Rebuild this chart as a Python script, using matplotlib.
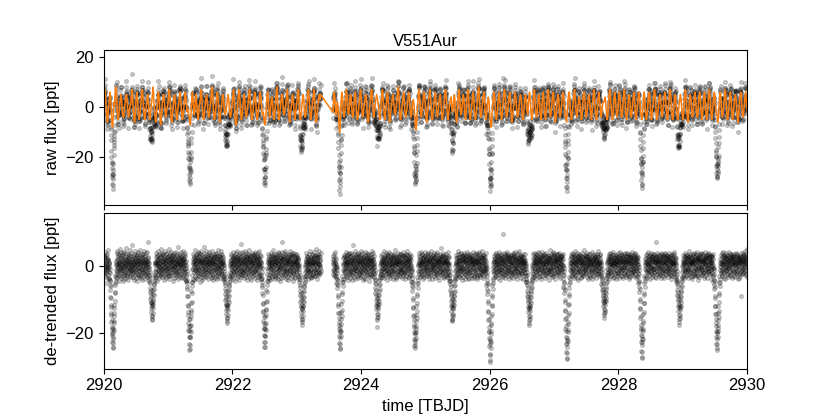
import numpy as np
import matplotlib
matplotlib.use("Agg")
import matplotlib.pyplot as plt
from matplotlib.ticker import MultipleLocator

plt.rcParams['font.family'] = ['Liberation Sans', 'DejaVu Sans']

# V551Aur light curve, 200 s cadence, two segments (data gap near 2923.45)
cadence = 200.0 / 86400.0
start1 = 2920.0
start2 = 2923.56

# de-trended flux, segment 1, in units of 0.1 ppt (12 exposures per row)
detr1 = [
    12, -23, 31, 4, -17, 26, -8, 42, -31, 9, -2, 28,
    -14, 6, -21, 15, -52, 33, 1, -9, 19, -36, 24, -4,
    37, -11, 3, -27, 18, 48, -6, 22, -40, 11, -19, 7,
    8, -35, -2, -41, -9, -58, -22, -71, -44, -93, -61, -118,
    -96, -141, -122, -168, -147, -189, -163, -207, -184, -228, -201, -246,
    -219, -242, -198, -231, -186, -212, -164, -193, -141, -172, -118, -149,
    -127, -82, -104, -51, -79, -31, -58, -12, -45, 3, -36, 9,
    -25, 14, 39, -7, 2, -33, 21, 45, -16, 6, -28, 17,
    32, -4, -19, 27, 10, -45, 13, 0, -12, 36, -29, 5,
    -9, 23, 50, -22, 8, 16, -37, 29, -3, -15, 41, -6,
    18, -31, 4, 34, -11, 24, -2, -46, 15, 8, -20, 38,
    -7, 12, -26, 43, 1, -14, 30, -38, 21, -1, 9, -23,
    26, -17, 6, 19, -35, 40, -10, 3, 55, -27, 14, -5,
    -30, 7, 22, -13, 36, -2, -21, 11, 28, -42, 17, 2,
    10, 33, -15, -6, 24, -29, 47, 5, -19, 13, -8, 30,
    -3, -24, 16, 39, -12, 8, -34, 20, 1, 62, -16, 4,
    21, -9, -32, 12, 27, -4, 15, -22, 35, -13, 6, -41,
    3, 29, -18, 44, -7, 16, -27, 9, -1, 25, -36, 11,
    -12, 18, 34, -20, 5, -44, 23, 2, -10, 31, 14, -28,
    41, -6, 10, -25, 17, 37, -14, -3, 26, -33, 7, 19,
    -16, 24, -2, 48, -30, 11, 6, -19, 32, -8, -37, 13,
    15, -27, 28, 3, -11, 21, -42, 36, 9, -5, 18, -22,
    -1, 35, -17, 14, 26, -31, 4, -9, 45, 12, -24, 7,
    30, -13, 22, -38, 8, 2, 19, -26, 13, 40, -7, -15,
    6, -20, 43, -4, 16, -34, 25, 10, -18, 28, -2, 71,
    14, -27, 8, -31, -2, -41, -9, -47, -18, -66, -35, -79,
    -52, -98, -71, -112, -84, -127, -93, -139, -108, -151, -117, -158,
    -163, -121, -149, -112, -141, -98, -126, -85, -113, -72, -104, -58,
    -86, -44, -69, -28, -55, -14, -41, 2, -33, 9, -27, 12,
    -19, 26, 5, -33, 38, 12, -8, 21, -45, 16, 3, 29,
    9, -14, 32, -1, -26, 17, 46, -11, 24, -37, 7, -3,
    -22, 13, 1, 35, -17, 28, -6, -30, 19, 8, 52, -13,
    27, -5, -23, 11, 40, -34, 15, 2, -9, 33, -20, 6,
    -11, 37, 20, -28, 4, 14, -41, 25, 10, -16, 31, -2,
    18, -30, 9, 44, -12, 22, -3, -25, 36, 1, -8, 15,
    -35, 11, 27, -7, 19, -21, 39, 6, -14, 28, -29, 3,
    24, -2, -17, 31, 8, 50, -26, 13, -5, -38, 21, 10,
    -8, 20, 35, -15, -31, 7, 16, -4, 43, -22, 12, 26,
    1, -27, 14, 22, -10, 34, -19, 29, 4, -46, 17, -6,
    33, 9, -13, -36, 25, -1, 11, 38, -24, 15, 0, -18,
    -4, 28, -32, 16, 6, -15, 42, -9, 21, -28, 35, 2,
    13, -21, 30, 5, -39, 19, -7, 24, 10, 57, -16, -3,
    -26, 15, 8, -11, 29, 37, -20, 3, -34, 18, 6, 23,
    7, -6, 41, -24, 12, -2, 26, -37, 17, 31, -12, 4,
    20, -33, -1, 14, 46, -17, 9, 22, -28, 5, 34, -10,
    -14, 25, 18, -40, 3, 30, -9, 12, -21, 39, -45, 16,
    4, -31, -6, -44, -14, -52, -25, -68, -41, -89, -64, -121,
    -91, -146, -118, -171, -139, -193, -158, -214, -179, -233, -196, -251,
    -212, -248, -193, -236, -181, -214, -159, -197, -138, -176, -112, -151,
    -132, -76, -108, -47, -82, -26, -61, -9, -48, 5, -39, 11,
    22, -8, 36, -19, 7, 15, -42, 31, -3, 24, -14, 9,
    -29, 17, 3, 48, -12, 26, -35, 10, 19, -6, 33, -21,
    11, -38, 25, -4, 37, -16, 2, 21, -27, 14, -9, 43,
    -2, 30, -22, 9, -13, 40, 18, -31, 6, 27, -47, 13,
    35, -12, 14, -25, 22, 1, -34, 16, 45, -10, 8, -19,
    -7, 19, -41, 32, -1, 12, 28, -23, 3, -36, 24, 58,
    16, -24, 7, 38, -15, -30, 20, 11, -8, 29, -4, -13,
    -33, 4, 21, -9, 46, 13, -18, 34, -27, 2, 17, 8,
    26, -14, -3, 15, -22, 31, 6, -39, 23, 12, -1, 36,
    -11, 41, 9, -28, 18, -5, 25, 14, -16, 33, -37, 0,
    8, -19, 30, 3, -32, 22, -12, 44, 10, -23, 15, -6,
    19, 28, -26, 12, 5, -43, 35, -2, 24, -11, 7, 31,
    -21, 6, 13, -35, 27, 16, -8, 20, -30, 39, 2, -15,
    37, -10, 23, 1, -18, 29, -40, 11, 6, -25, 48, -4,
    -5, 21, -29, 34, 14, -7, 18, -20, 31, 3, -13, 26,
    12, -37, 5, 20, -9, 45, -24, 8, -3, 36, -17, 10,
    -23, 16, 32, -12, 24, -1, -31, 27, 13, -40, 19, 4,
    9, -30, 3, -36, -7, -45, -15, -51, -24, -70, -40, -84,
    -58, -103, -76, -118, -89, -133, -99, -145, -113, -157, -121, -164,
    -171, -125, -155, -117, -146, -101, -131, -88, -118, -76, -107, -61,
    -90, -47, -72, -31, -58, -17, -44, -1, -36, 6, -30, 14,
    17, -6, 29, -21, 10, 36, -13, 4, -33, 22, 8, -27,
    -4, 31, 14, -38, 23, 2, -16, 41, -9, 18, -25, 11,
    28, -19, 6, 15, -44, 26, 9, -7, 33, -14, 1, 20,
    -12, 39, -27, 3, 17, -3, 45, -20, 12, 27, -35, 7,
    24, -9, 18, -30, 5, 34, -17, 22, -2, -41, 13, 30,
    -16, 10, -5, 26, -24, 14, 38, -11, 19, 0, -28, 66,
    3, -33, 21, 9, 42, -15, 7, -26, 31, 16, -8, -19,
    35, 12, -22, 17, -6, 28, -37, 5, 24, -12, 44, 1,
    -27, 19, 8, -14, 30, -3, 15, 39, -21, 6, -32, 23,
    10, -41, 27, 4, -10, 21, -25, 13, 37, -18, 2, 32,
    -8, 25, -2, 47, -29, 11, 18, -6, -35, 29, 14, -12,
    22, -16, 34, -23, 8, -1, 26, -43, 16, 40, -9, 5,
    -18, 7, 13, 33, -31, 20, -4, 24, 9, -22, 35, -14,
    29, -26, 0, 18, 12, -37, 43, -8, -15, 26, 4, 17,
    -6, 36, -20, 10, 25, -12, 3, 31, -42, 14, 21, -1,
    15, -11, 28, -32, 1, 38, -18, 9, 20, -27, 7, 46,
    -30, 23, 6, -7, 34, 13, -24, 17, -3, 30, -39, 8,
    11, -27, 1, -38, -5, -49, -19, -62, -37, -81, -57, -112,
    -87, -139, -113, -165, -134, -186, -151, -208, -172, -227, -189, -243,
    -209, -241, -188, -229, -176, -209, -154, -191, -133, -170, -108, -146,
    -128, -73, -104, -44, -79, -23, -57, -6, -45, 8, -35, 13,
    20, -13, 37, -4, -26, 14, 29, -35, 6, 22, -10, 3,
    -24, 8, 18, -43, 31, 10, -7, 25, -18, 40, 1, -29,
    13, 33, -9, 21, -37, 4, 16, -2, 49, -22, 11, 27,
    -15, -31, 24, 7, 19, -11, 35, -26, 3, 14, -40, 9,
    30, 2, -19, 36, -8, 23, -33, 12, 26, -5, 17, -24,
    -1, 26, 11, -29, 42, -14, 5, 21, -38, 8, 32, -10,
    18, -22, 39, 6, -12, 28, -3, -45, 15, 33, -7, 1,
    -36, 14, -6, 24, 9, -20, 41, 17, -28, 2, 20, 71,
    7, -17, 30, -33, 22, 12, -9, 27, 4, -24, 38, -13,
    25, -5, -27, 16, -1, 44, -16, 8, 31, -39, 10, 19,
    -12, 37, 3, -21, 28, -8, 15, -32, 20, 6, -15, 34,
    14, -28, 22, 9, -41, 17, 35, -4, -11, 26, 2, -20,
    -9, 19, 46, -16, 7, -25, 12, 30, -36, 13, 24, -2,
    32, -14, 1, 27, -30, 5, -7, 38, 11, -19, -44, 16,
    -20, 10, 34, -3, 18, 29, -23, 4, -12, 40, 8, -33,
    5, -37, 15, 23, -6, -17, 36, 13, 26, -10, 17, 2,
    27, 11, -24, 8, 33, -12, 20, -29, 3, 18, -3, 25,
    6, -33, 1, -39, -10, -48, -19, -56, -28, -74, -43, -88,
    -63, -107, -81, -122, -92, -138, -101, -150, -117, -161, -125, -169,
    -176, -128, -158, -120, -149, -104, -134, -92, -120, -79, -109, -64,
    -93, -50, -75, -34, -61, -19, -47, -3, -39, 4, -31, 12,
    -14, 22, 5, -31, 16, 39, -8, 13, -23, 28, 0, -11,
    31, -19, 12, 26, -40, 7, 21, -6, 35, -15, 9, -27,
    -3, 15, -34, 19, 4, -22, 44, 10, -13, 24, -37, 6,
    20, -9, 28, -16, 37, 2, -26, 17, 8, -32, 23, 13,
    -25, 34, -1, 11, -18, 27, -11, 41, -5, 16, -29, 9,
    12, -30, 23, 5, 29, -13, 3, -21, 33, 18, -8, 50,
    -17, 8, -38, 30, 14, -4, 24, -28, 10, 2, 36, -19,
    26, -12, 15, -27, 4, 31, -20, 7, 45, -9, 18, -2,
    14, -21, 28, 3, -15, 39,
]

# de-trended flux, segment 2, in units of 0.1 ppt
detr2 = [
    11, -24, 6, 30, -12, 22, -31, 4, 17, -8, 35, -15,
    -3, 26, -19, 9, 41, -27, 13, 1, -36, 20, -6, -52,
    5, -29, -4, -40, -12, -55, -20, -66, -43, -87, -58, -115,
    -93, -142, -119, -169, -141, -190, -156, -211, -176, -231, -198, -247,
    -215, -244, -195, -233, -183, -211, -160, -194, -139, -173, -115, -150,
    -131, -78, -106, -49, -84, -29, -59, -11, -47, 2, -38, 10,
    23, -10, 34, -18, 6, 27, -40, 15, -2, 31, -22, 8,
    -14, 19, 3, -30, 42, 11, -7, 25, -26, 13, 37, -5,
    29, -33, 16, 7, -11, 23, -1, -43, 20, 9, -17, 35,
    -8, 14, -24, 38, 2, -15, 30, 12, -35, 26, 5, -20,
    17, 40, -12, 4, -28, 19, -5, 33, 10, -41, 22, -3,
    -27, 8, 24, -9, 15, 63, -19, 6, 28, -13, -32, 18,
    3, -21, 36, 13, -6, -38, 21, -2, 45, -16, 9, 26,
    -11, 31, -4, -25, 19, 7, 35, -29, 12, 1, -14, 39,
    24, -7, 16, 29, -36, 10, -20, 17, -3, 32, 14, -26,
    -19, 12, -33, 5, 27, -11, 3, 44, -23, 18, 25, -8,
    34, -15, 9, -2, -30, 38, 13, -18, 7, -42, 20, 4,
    -6, 22, 28, -21, 11, 1, -35, 26, 16, -9, 41, -12,
    15, -38, -3, 33, 20, -14, 8, -26, 30, 5, -19, 23,
    -24, 6, 39, -10, -1, 25, -31, 14, -6, 36, 2, 17,
    9, 27, -16, 21, -44, 13, 32, -4, 19, -23, 10, -34,
    -2, -18, 24, 11, 35, -27, 4, 18, -12, 46, -7, 14,
    28, 3, -30, 17, -8, 22, -15, 39, 6, -20, 31, -1,
    12, -25, 5, -34, -4, -43, -13, -51, -21, -67, -38, -81,
    -55, -101, -73, -116, -86, -130, -96, -143, -110, -155, -119, -162,
    -184, -122, -152, -114, -143, -99, -129, -86, -115, -74, -104, -57,
    -88, -41, -70, -26, -54, -12, -40, 4, -32, 10, -25, 15,
    -16, 30, 8, -23, 37, -5, 14, -33, 21, 2, -11, 26,
    19, -9, -28, 13, 4, 44, -19, 25, -6, 11, -37, 7,
    -31, 24, 17, -3, 29, -14, 0, -24, 38, 15, 6, -12,
    10, -41, 20, 33, -13, 8, 27, -7, -18, 31, -25, 3,
    36, 2, -15, 21, -30, 16, -4, 12, 43, -21, 9, -28,
    -7, 18, 31, -35, 7, 25, -11, 37, -2, -16, 22, 13,
    25, -20, 4, 10, -26, -1, 34, -14, 17, 29, -40, 6,
    -13, 35, -23, 27, 15, -8, 20, 3, -32, 12, 1, 48,
    4, -12, 24, -39, 30, 11, -21, 16, 8, -4, 27, -18,
    21, 9, -34, 5, -15, 40, 6, -25, 23, 14, -10, 32,
    -26, 16, 13, -6, 28, -19, 37, 2, -13, -30, 19, 8,
    14, -3, -22, 36, -9, 21, -36, 11, 29, 4, -16, 24,
    -10, 29, 7, -17, 42, 1, 15, -29, 5, 33, -8, -21,
    30, -24, 19, 12, -4, -14, 26, 9, -38, 17, 36, 0,
    -18, 11, -29, 23, 16, 32, -7, -12, 20, -1, 45, -33,
    7, 34, 2, -20, -11, 18, 28, -37, 13, 22, -5, 15,
    -23, -8, 35, 9, 25, -26, 3, 19, -14, 30, -2, -48,
    2, -36, -8, -47, -16, -60, -27, -74, -48, -96, -63, -124,
    -101, -150, -125, -176, -146, -199, -162, -218, -184, -239, -205, -245,
    -221, -238, -200, -227, -190, -216, -166, -199, -146, -179, -121, -155,
    -136, -84, -111, -53, -89, -33, -65, -15, -51, -1, -42, 7,
    19, -17, 30, 6, -25, 13, 38, -9, 2, 27, -34, 10,
    -5, 22, -14, 41, 9, -31, 17, 4, -20, 35, 12, -7,
    33, -28, 11, -2, 24, 15, -39, 20, 7, -12, 29, -23,
    -15, 6, 26, -33, 14, 31, -6, 43, -18, 9, -1, 18,
    24, -11, -4, 17, -29, 5, 22, -16, 36, -7, -27, 12,
    1, 39, -21, 10, 28, -13, 8, 33, -40, 16, 21, -3,
    -30, 15, 5, -17, 35, 23, -10, -24, 13, 1, 46, -8,
    12, -26, 27, 20, -3, -38, 19, 6, 31, -15, 4, 25,
    -9, 32, -13, 3, 16, 11, -31, 24, -6, 40, -20, 7,
    26, -4, 18, -37, 7, 29, -15, 1, 22, -23, 13, 35,
    -21, 9, 42, -8, -17, 14, 34, -28, 10, 4, -11, 19,
    16, -33, 1, 25, 12, -6, 23, 15, -42, 30, 7, -14,
    -2, 21, -19, 36, -27, 18, 3, -9, 27, 55, -24, 11,
    31, 5, -10, -22, 20, 8, -34, 29, 14, -17, 38, -5,
    -12, 27, 13, 4, -36, 33, 11, -13, 2, 24, -29, 17,
    8, -18, 37, -25, 15, -2, 26, 19, -9, -33, 16, 6,
    -28, 13, -6, 30, 23, -15, 5, 41, -21, 9, 28, -44,
    10, -28, 4, -37, -6, -46, -16, -53, -26, -71, -42, -85,
    -60, -104, -79, -119, -90, -134, -98, -147, -115, -158, -123, -166,
    -162, -125, -150, -117, -144, -102, -129, -89, -118, -77, -106, -60,
    -91, -45, -74, -29, -57, -15, -43, 1, -35, 8, -28, 13,
    23, -13, 6, 32, -20, 14, -37, 25, 3, -8, 36, -16,
    -4, 28, -24, 10, 45, -11, 19, -30, 7, 21, -2, 13,
    37, -19, 15, -6, -33, 26, 1, 17, -14, 39, -26, 5,
    -11, 8, 29, 22, -3, -41, 31, -7, 24, -18, 12, 34,
    18, -32, -9, 14, 27, 4, -22, 40, -5, 13, -38, 20,
    -25, 16, 33, -14, 9, 29, -10, -3, 19, -27, 26, 2,
    6, 42, -16, 21, -30, 0, 35, -20, 11, 30, -12, -35,
    28, -6, 12, -39, 18, 25, -18, 8, -2, 37, 14, -22,
    -14, 20, 2, 27, -10, -28, 16, 33, -36, 5, 22, 10,
    31, -27, 24, 6, 13, -9, 43, -15, 20, -4, -31, 17,
    -7, 11, -35, 18, 35, 7, -13, 26, 2, -21, 9, 39,
    14, -23, 22, -1, -19, 32, -40, 12, 28, 15, -8, -26,
    -33, 35, 5, 13, 24, -12, 17, -5, -28, 41, 3, 8,
    20, -2, -26, 30, -8, 16, 6, -34, 37, -11, 25, -17,
    -5, 27, 15, -21, 11, 44, -24, 9, 0, 23, -15, 31,
    25, -16, 32, 3, -36, 10, 21, -12, 16, -30, 34, -4,
    -19, 4, -11, 26, 19, -7, 38, 14, -23, 7, -9, -56,
    1, -41, -7, -50, -17, -68, -30, -83, -54, -105, -74, -139,
    -110, -162, -135, -194, -158, -217, -183, -239, -199, -262, -226, -281,
    -286, -233, -267, -219, -245, -196, -228, -171, -203, -150, -176, -119,
    -145, -86, -117, -58, -94, -35, -70, -16, -52, -2, -43, 8,
    16, -21, 29, -3, 11, 20, -14, 24, -32, 6, 35, -9,
    -26, 12, 4, 38, -17, 22, -6, -29, 15, 31, -2, 18,
    9, 34, -19, 7, -35, 14, 26, -11, 3, -24, 41, -13,
    -1, -16, 21, 28, 5, -42, 12, 33, -8, 19, -27, 24,
    30, -9, 13, -22, 36, 1, -17, 10, 25, -4, 17, -31,
    -12, 26, -33, 15, 8, 97, -25, 39, 2, -14, 22, 6,
    19, -6, 37, -28, 14, -10, 31, 4, -36, 27, 11, -18,
    -24, 33, 0, 12, -15, 25, -3, 18, 43, -21, -7, 29,
    7, -30, 24, 35, -11, 9, -38, 16, 20, -2, 30, -14,
    23, 15, -13, -4, 28, -27, 6, 34, -18, 12, -32, 1,
    -17, 2, 32, 19, -24, 13, 23, -8, 10, 38, -20, 26,
    13, -37, 7, -14, 29, 36, -5, -22, 27, 3, 18, -9,
    -6, 20, -26, 41, 1, -12, 15, 28, -31, 21, -3, 11,
    32, -15, 17, 6, -40, 24, 2, -17, 12, -7, 39, -25,
    -9, 24, 44, -19, 10, 16, -28, 7, 33, -13, 4, 21,
    27, -3, -21, 14, 22, -35, 30, 11, -6, 18, -24, 0,
    -20, 31, 9, -11, 37, 5, -16, 26, 14, -39, 8, 19,
    11, -8, 25, 2, -27, 17, 35, -21, 4, 13, -10, -47,
    7, -31, 0, -40, -9, -49, -17, -57, -27, -75, -44, -89,
    -62, -108, -80, -123, -93, -139, -102, -151, -118, -163, -126, -171,
    -177, -129, -159, -122, -150, -106, -135, -93, -121, -80, -110, -66,
    -94, -52, -76, -36, -62, -21, -49, -5, -41, 2, -33, 10,
    24, -12, 35, -1, -23, 15, 8, -33, 21, 40, -6, 12,
    -15, 19, 5, -28, 30, -9, 24, 13, -38, 7, 27, -20,
    36, -4, -16, 22, 10, 33, -26, 2, 16, -12, -1, 41,
    -8, 27, -34, 11, -5, 20, 38, -18, 6, 25, -29, 14,
    18, -22, 12, 31, 3, -40, 15, 28, -10, -3, 34, -14,
    -30, 9, 26, -7, 43, 17, -21, 5, 29, -16, 10, 2,
    13, 37, -11, 20, -18, -2, 32, -27, 14, 23, -35, 8,
    -3, -25, 19, 4, 29, -13, 7, 39, -22, 11, 16, -6,
    27, 14, -31, 34, -9, 23, -17, 10, 1, -41, 25, 18,
    -19, 5, 30, -12, 15, 49, -7, -24, 20, 8, -13, 33,
    10, -28, -5, 25, 18, -16, 36, 3, -33, 28, 6, -10,
    -23, 22, 41, -3, -29, 12, -1, 31, 9, -19, 38, 15,
    33, -11, 8, 17, -22, 27, 14, -38, 24, 2, -7, 20,
    -4, 16, -27, 37, 6, -8, 26, 19, -15, 32, -25, 4,
    21, 35, 1, -19, 11, -31, 22, -5, 40, 13, -17, 28,
    -12, -2, 24, 9, -36, 18, 7, 29, -9, -22, 30, 5,
    17, 26, -14, 32, 3, -10, 15, -27, 21, 36, 1, -62,
    3, -38, -5, -47, -14, -65, -28, -80, -51, -101, -72, -134,
    -107, -159, -131, -190, -155, -213, -180, -234, -196, -258, -223, -276,
    -279, -230, -261, -215, -241, -192, -224, -168, -198, -147, -173, -116,
    -141, -83, -113, -55, -90, -32, -67, -13, -49, 1, -40, 10,
    22, -16, 9, 34, -28, 13, -3, 26, 40, -19, 7, -9,
    -31, 18, 27, -6, 15, -24, 36, 2, -12, 29, 11, -37,
    8, 31, -20, 14, -2, 45, -14, 21, -29, 5, 24, 16,
    -10, 3, 33, -26, 24, 9, -7, -35, 17, 38, -18, 6,
    28, -22, 12, 19, -41, 4, 30, 14, -5, -15, 22, 35,
    -14, 25, -9, 1, 34, -18, 11, 27, -32, 16, 8, -25,
    17, -36, 29, 10, 6, 24, -27, 39, 3, -10, -21, 13,
    -5, 14, 2, -30, 28, 18, -13, 8, 23, 47, -16, -1,
    34, -10, -24, 22, -8, 32, 5, -19, 13, -4, 30, 26,
    -20, 7, 39, 15, -33, 0, 24, 11, -38, 21, 3, -12,
    12, 29, -15, -7, 18, -26, 37, -2, 20, 9, -34, 23,
    -27, 4, 21, 35, -1, 13, -18, 28, -11, 6, 16, -40,
    15, -19, 8, -13, 42, 25, 3, -30, 30, 18, -6, 10,
    -2, 36, -28, 20, 7, -15, 14, 33, -22, -9, 27, 1,
    26, -11, 17, -36, 22, 10, -4, 16, 2, 37, -23, 13,
    -16, 21, 4, 28, -25, 31, 9, -12, 44, -20, 6, -5,
    9, -3, -29, 13, 33, -6, 19, 24, -15, 11, 35, -54,
    13, -24, 7, -30, -1, -38, -8, -45, -17, -61, -33, -73,
    -51, -93, -69, -106, -78, -119, -88, -130, -100, -140, -107, -146,
    -155, -110, -139, -104, -131, -90, -118, -79, -106, -68, -96, -52,
    -80, -37, -63, -22, -48, -9, -35, 6, -28, 12, -21, 17,
    -9, 24, 11, -27, 35, 3, -15, 20, 29, -38, 14, 5,
    30, -13, 22, -4, -21, 38, 10, -31, 17, 7, -6, 25,
    -18, 4, 36, 13, 9, -26, 27, -1, -14, 32, 19, -35,
    6, 41, -10, -19, 24, 15, -33, 21, 8, -3, 28, 12,
    -25, 10, 1, 33, -12, 22, 5, -40, 34, 16, -20, 2,
    19, -30, 28, 7, 14, -8, 39, 11, -24, 26, 3, -17,
    -7, 15, -22, 25, -36, 30, -2, 18, 12, -13, 43, 8,
    24, -5, 13, -29, 20, 2, -18, 35, -9, 29, -31, 16,
    -12, 33, 6, 18, -4, -37, 23, 9, 27, -22, 11, -2,
    35, -20, -6, 11, 31, 17, -27, 4, -15, 38, 21, 7,
    -3, 12, 26, -34, 16, -11, 30, 22, -5, -28, 14, 40,
    14, -24, 37, 2, -19, 27, 8, -13, 33, 10, -39, 19,
    -29, 20, -8, 29, 11, 5, -32, 26, 1, 17, -10, 28,
    8, 36, -17, -3, 23, -21, 15, 42, -26, 6, 30, -14,
    -19, 1, 25, 14, -30, 34, -5, 11, 20, -16, 3, 37,
    27, -9, 10, -23, 39, 8, 18, -35, 13, 25, -12, -4,
    -6, 23, -31, 17, 6, -14, 31, 3, -20, 15, 28, -51,
    6, -34, -2, -45, -12, -62, -25, -77, -47, -98, -69, -129,
    -104, -155, -127, -185, -151, -208, -176, -229, -192, -253, -219, -271,
    -274, -227, -257, -211, -237, -188, -219, -164, -194, -143, -170, -112,
    -137, -80, -110, -51, -87, -29, -63, -10, -46, 4, -37, 12,
    20, -14, 32, -2, 11, -29, 25, 6, -18, 36, -8, 14,
    -35, 9, 17, 28, -11, 3, 41, -22, 7, 22, -27, 1,
    13, 30, -16, 5, -38, 19, 10, 33, -6, -15, 26, -3,
    -21, -4, 24, 39, 2, -24, 15, -9, 31, 12, -32, 20,
    29, 16, -12, -28, 21, 35, -5, 13, -19, 4, 37, -8,
    -10, 25, 8, 14, -33, 11, 27, -17, 23, -1, 12, 73,
    18, -37, 31, -7, 16, 26, -14, 2, 38, -23, 7, 15,
    -2, 13, -20, 34, 5, -12, 20, 30, -30, 17, -6, -24,
    33, -8, 22, 9, -26, 14, -3, 40, 11, -37, 24, 4,
    -15, 28, -5, -19, 37, 1, 18, -11, 26, 8, -21, 32,
    11, -31, 16, 23, -9, 30, -36, 12, 3, 35, 14, -13,
    -24, 6, 40, -14, 13, -2, 26, 21, -27, 9, 1, 29,
    23, 19, -9, 4, 32, -20, 7, -33, 17, 27, -15, -4,
    -7, -22, 28, 18, -16, 38, 12, 3, -10, 14, 31, -28,
    16, 34, -26, 10, 24, -6, -40, 21, 35, -12, 5, 9,
    -30, 12, 3, 29, -1, 17, 23, -19, 8, 42, -25, 13,
    5, -17, 36, -11, 20, 9, -8, 27, -34, 15, 24, -45,
    9, -29, 2, -38, -7, -47, -16, -55, -25, -72, -41, -86,
    -59, -105, -77, -120, -90, -135, -100, -148, -114, -160, -124, -168,
    -177, -127, -156, -119, -147, -103, -132, -90, -119, -78, -108, -62,
    -92, -48, -74, -32, -59, -17, -45, -1, -37, 5, -29, 13,
    17, -11, 33, -4, 8, 26, -23, 13, -35, 21, 2, -15,
    -6, 30, -18, 11, 39, -13, 5, 23, 16, -29, 34, -1,
    25, -27, 12, -8, -15, 32, 20, -36, 9, 27, -10, 18,
    -12, 7, 44, 21, -24, 3, -6, 30, -19, 14, 6, 36,
    31, -21, -3, 16, 27, -33, 12, 8, 24, -9, -40, 10,
    -17, 22, 14, -30, 5, 37, -12, 19, 2, 33, 15, -26,
    6, 38, -24, 26, -14, 10, 29, -5, -31, 20, -2, 12,
    22, -8, 18, 3, 35, -21, -11, 25, 11, -16, 43, -29,
    -26, 15, 1, 34, -7, 20, 17, -41, 28, 4, -13, 24,
    12, -33, 27, 8, 21, -2, 36, 14, -20, 31, -9, -5,
    -4, 19, -16, 39, -27, 13, 6, -12, 22, 35, -28, 16,
    35, 0, 10, -22, 15, 29, -35, 24, -3, 11, 20, -18,
    -19, 26, -30, 5, 42, -10, 18, 9, 30, -25, 3, 27,
    14, -13, 21, 32, -37, 7, 25, -7, 13, 40, -16, -2,
    -8, 33, 4, -17, 17, 23, -24, 36, -14, 2, 28, 11,
    27, -25, 15, 12, -5, -38, 31, 1, 19, -12, 9, 34,
    -1, 10, -21, 26, 30, 14, -9, 22, -27, 37, -6, -49,
    4, -32, -6, -42, -13, -57, -23, -70, -45, -91, -62, -120,
    -97, -144, -121, -172, -143, -194, -160, -214, -180, -234, -201, -251,
    -218, -246, -197, -235, -186, -214, -163, -196, -142, -176, -119, -154,
    -134, -81, -108, -51, -86, -30, -61, -12, -49, 1, -40, 8,
    21, -15, 34, -3, -22, 16, 9, -31, 26, 38, -11, 5,
    -27, 12, 2, 29, 14, -18, 41, 7, -6, 23, -35, 18,
    10, 33, -20, 6, -9, 27, -2, -40, 31, 15, 4, -13,
    -16, 24, 39, -11, 20, -28, 13, 34, -4, 8, 25, -23,
    30, -6, 11, 18, -34, 3, 28, 12, -19, 43, -1, 15,
    -5, 26, -26, 37, 9, 21, -14, -3, 17, -31, 32, 6,
    19, -20, 7, -8, 27, 35, 1, 24, -37, 10, -15, 29,
    -13, 14, 31, 22, -29, 10, 36, -17, 6, 20, 3, -33,
    25, 4, -17, 13, 16, -7, 23, 30, -25, -2, 40, 11,
    -22, 36, 8, -14, 33, 19, -10, 5, 27, -39, 14, 1,
    9, -9, 25, 3, -36, 28, 17, -23, 12, 31, -20, 22,
    -31, 20, 12, 40, -3, -16, 26, 9, -89, 16, 7, -12,
    15, 28, -10, -25, 21, 2, 34, -6, 11, -21, 38, 17,
    -4, 7, 29, 16, -19, 32, -13, 20, 3, 26, -28, 45,
    22, -24, 13, 35, 6, -11, 19, -32, 28, 10, -2, 52,
]

# trend model [ppt] (orange line), one value per 10 min, segment 1
trend1 = [
    2, 5, 7, 6, 3, 0, -3, -5, -6, -4, -1, 1, 3, 5, 6, 4, 1, -3, -6, -8, -7, -4, 0, 2,
    1, 4, 7, 8, 6, 2, -2, -4, -5, -4, -2, 0, 2, 3, 5, 4, 2, -1, -3, -4, -4, -3, -1, 1,
    2, 4, 5, 5, 3, 0, -2, -4, -3, -2, 0, 1, 1, 3, 6, 7, 4, 1, -2, -4, -6, -6, -3, 0,
    3, 5, 6, 4, 1, -2, -4, -5, -4, -2, 0, 2, 4, 6, 7, 5, 2, -1, -3, -5, -5, -3, -1, 1,
    2, 4, 5, 3, 0, -2, -4, -5, -3, -1, 1, 2, 4, 6, 8, 6, 2, -1, -3, -5, -6, -4, -2, 0,
    2, 5, 6, 5, 2, -2, -5, -7, -6, -3, 0, 2, 3, 5, 5, 3, 1, -1, -3, -4, -3, -1, 0, 1,
    3, 5, 7, 6, 3, 0, -3, -5, -6, -4, -2, 0, 2, 4, 5, 4, 1, -1, -3, -5, -4, -2, 0, 1,
    2, 4, 6, 6, 3, 0, -2, -4, -5, -4, -2, 0, 2, 4, 6, 5, 3, 1, -1, -2, -1, -1, -3, -4,
    -5, -7, -6, -3, 1, 4, 6, 5, 2, -1, -3, -2, 0, 3, 5, 4, 1, -2, -4, -5, -3, -1, 1, 2,
    3, 6, 7, 5, 1, -2, -4, -5, -4, -2, 0, 1, 3, 4, 5, 3, 1, -2, -3, -4, -3, -1, 1, 2,
    3, 6, 8, 7, 3, -1, -3, -5, -5, -3, -1, 1, 3, 5, 6, 5, 2, -1, -4, -6, -5, -3, -1, 0,
    1, 3, 5, 5, 3, 0, -2, -3, -3, -2, -1, 1, 2, 4, 5, 4, 2, -1, -3, -4, -4, -2, 0, 1,
    3, 5, 7, 6, 2, -2, -5, -7, -7, -5, -2, 0, 2, 4, 6, 7, 5, 1, -2, -4, -5, -4, -2, 0,
    2, 4, 5, 4, 1, -2, -3, -4, -3, -1, 0, 2, 4, 6, 7, 5, 2, -1, -3, -5, -5, -3, -1, 1,
    3, 5, 6, 5, 2, -1, -3, -5, -5, -3, -1, 1, 3, 5, 6, 5, 3, 0, -2, -3, -2, -2, -4, -6,
    -7, -7, -5, -2, 1, 4, 6, 6, 3, 0, -3, -4, -3, -1, 1, 3, 4, 3, 1, -2, -4, -5, -3, -1,
    1, 4, 7, 8, 6, 2, -1, -4, -5, -4, -2, 0, 2, 3, 5, 5, 3, 0, -2, -3, -3, -2, 0, 1,
    3, 5, 7, 6, 3, 0, -3, -5, -6, -4, -2, 0, 1, 3, 5, 4, 2, 0, -2, -4, -5, -3, -1, 1,
    2, 4, 6, 7, 5, 1, -2, -4, -5, -4, -2, 0, 2, 4, 5, 4, 1, -2, -4, -4, -3, -1, 1, 2,
    4, 6, 7, 5, 2, -1, -3, -5, -4, -2, 0, 2, 3, 5, 7, 6, 2, -2, -5, -6, -6, -4, -1, 1,
    2, 4, 5, 4, 3, 5, 6,
]

# trend model [ppt] (orange line), one value per 10 min, segment 2
trend2 = [
    -2, 1, 4, 6, 5, 2, -1, -3, -2, 0, 2, 1, -2, -5, -8, -10, -7, -3, 1, 4, 6, 5, 2, -1,
    -3, -4, -3, -1, 2, 5, 7, 6, 3, 0, -2, -3, -2, 0, 3, 5, 5, 3, 0, -2, -4, -4, -2, 1,
    3, 5, 6, 4, 1, -2, -4, -5, -4, -2, 0, 2, 4, 6, 7, 5, 2, -1, -3, -4, -3, -1, 1, 2,
    3, 5, 5, 3, 0, -3, -5, -6, -4, -2, 0, 1, 3, 5, 7, 7, 4, 1, -2, -4, -4, -2, 0, 1,
    3, 4, 5, 4, 3, 2, 0, -2, -4, -5, -3, -1, 1, 3, 6, 7, 5, 2, -1, -3, -5, -4, -2, 0,
    2, 4, 6, 5, 2, -1, -4, -6, -5, -3, -1, 1, 2, 4, 5, 4, 2, 0, -2, -3, -3, -1, 1, 2,
    4, 6, 8, 7, 4, 0, -3, -5, -5, -3, -1, 1, 2, 4, 6, 5, 2, -1, -3, -4, -3, -2, 0, 1,
    3, 5, 6, 5, 2, -1, -3, -4, -3, -1, 1, 2, 3, 2, 0, -3, -6, -8, -9, -7, -4, -1, 2, 4,
    6, 7, 5, 2, -1, -3, -4, -3, -1, 1, 3, 5, 6, 5, 3, 0, -3, -5, -6, -4, -2, 0, 2, 4,
    6, 7, 6, 3, 0, -3, -5, -5, -3, -1, 1, 3, 5, 6, 5, 2, -1, -3, -4, -3, -1, 1, 3, 4,
    5, 4, 1, -2, -4, -5, -4, -2, 0, 2, 4, 6, 7, 6, 3, 0, -2, -4, -5, -3, -1, 1, 2, 3,
    4, 3, 1, -1, -2, 0, 2, 4, 5, 3, 0, -3, -5, -6, -4, -1, 2, 5, 7, 6, 3, 0, -2, -3,
    -2, 0, 2, 4, 5, 4, 1, -2, -4, -5, -3, 0, 3, 5, 7, 6, 3, 0, -2, -4, -5, -3, -1, 1,
    3, 5, 6, 4, 1, -2, -4, -5, -4, -2, 0, 2, 4, 6, 8, 7, 3, 0, -3, -4, -4, -2, 0, 2,
    4, 5, 6, 4, 1, -2, -4, -5, -3, -1, 1, 3, 4, 3, 1, -2, -5, -7, -8, -7, -4, -1, 2, 4,
    6, 6, 4, 1, -2, -4, -5, -4, -2, 0, 3, 5, 6, 5, 2, -1, -3, -5, -5, -3, 0, 2, 4, 6,
    7, 6, 3, 0, -3, -4, -4, -2, 0, 2, 4, 5, 6, 4, 1, -2, -4, -6, -5, -3, -1, 1, 3, 5,
    6, 5, 3, 0, -2, -4, -4, -3, -1, 1, 3, 4, 5, 4, 2, -1, -3, -5, -5, -3, 0, 2, 4, 5,
    4, 2, 0, -2, -3, -1, 2, 4, 6, 5, 2, -1, -3, -5, -4, -2, 1, 4, 6, 7, 5, 2, -1, -3,
    -4, -3, -1, 2, 4, 5, 4, 1, -2, -4, -5, -3, 0, 3, 5, 6, 4, 1, -2, -4, -5, -3, -1, 2,
    4, 6, 7, 5, 2, -1, -3, -4, -3, -1, 1, 3, 5, 6, 5, 2, -1, -4, -6, -5, -3, 0, 2, 4,
    5, 4, 2, -1, -3, -4, -3, -1, 1, 3, 5, 6, 5, 3, 1, -1, -3, -4, -5, -6, -4, -1, 2, 4,
    6, 6, 4, 1, -2, -4, -5, -4, -2, 0, 2, 4, 6, 7, 5, 2, -1, -3, -4, -3, -1, 1, 3, 4,
    4, 2, -1, -3, -5, -5, -3, 0, 3, 5, 6, 5, 3, 0, -2, -4, -4, -2, 0, 2, 4, 5, 4, 2,
    0, -2, -4, -5, -3, 0, 3, 5, 7, 6, 3, 0, -2, -4, -5, -4, -1, 2, 4, 6, 5, 3, 1, -1,
    -3, -4, -2, 0, 1, 2, 2, 2, 3, 4, 3, 1, -1, -3, -5, -4, -2, 1, 4, 6, 7, 5, 2, 0,
    -2, -4, -5, -3, 0, 3, 5, 6, 4, 1, -1, -3, -4, -3, -1, 2, 4, 6, 5, 3, 0, -2, -4, -4,
    -2, 0, 3, 5, 7, 6, 3, 0, -3, -5, -5, -3, -1, 2, 4, 5, 4, 2, -1, -3, -4, -3, -1, 1,
    3, 5, 6, 4, 1, -2, -4, -5, -3, -1, 1, 3, 5, 6, 5, 3, 0, -2, -3, -4, -5, -3, 0, 3,
    5, 6, 4, 1, -2, -4, -5, -4, -2, 1, 3, 5, 6, 5, 2, -1, -3, -5, -4, -2, 0, 2, 4, 6,
    7, 6, 3, 0, -3, -5, -5, -3, -1, 1, 3, 4, 5, 4, 2, -1, -3, -4, -3, -1, 1, 3, 5, 6,
    5, 3, 0, -2, -4, -5, -4, -1, 2, 4, 6, 7, 6, 3, 0, -3, -5, -5, -3, -1, 2, 4, 5, 4,
    2, 0, -2, -4, -5, -3, -1, 1, 2, 4, 5, 4, 2, -1, -3, -5, -5, -3, 0, 3, 5, 7, 6, 3,
    0, -3, -5, -6, -4, -1, 2, 4, 5, 4, 2, -1, -3, -4, -3, -1, 2, 4, 6, 5, 3, 0, -2, -4,
    -4, -3, 0, 3, 5, 6, 5, 2, -1, -3, -5, -4, -2, 0, 3, 5, 6, 4, 1, -2, -4, -5, -3, -1,
    2, 4, 6, 7, 5, 2, -1, -3, -5, -4, -2, 1, 3, 5, 6, 4, 2, 0, -2, -3, -3, -5, -6, -4,
    -1, 2, 5, 6, 5, 2, -1, -3, -4, -3, -1, 1, 3, 5, 7, 6, 3, 0, -3, -5, -5, -3, -1, 1,
    3, 5, 6, 4, 1, -2, -4, -5, -3, -1, 1, 3, 4, 5, 4, 2, -1, -3, -5, -6, -4, -1, 2, 4,
    5, 6, 5, 2, -1, -3, -4, -3, -1, 1, 3, 5, 6, 4, 1, -1,
]


def build(detr_tenths, trend, start):
    # each trend value covers three 200 s exposures
    n = min(len(detr_tenths), 3 * len(trend))
    t = start + np.arange(n) * cadence
    detr = np.array(detr_tenths[:n]) / 10.0
    raw = detr + np.repeat(np.array(trend, float), 3)[:n]
    nt = (n + 2) // 3
    t_tr = start + (np.arange(nt) * 3 + 1) * cadence
    return t, detr, raw, t_tr, np.array(trend[:nt], float)


t1, d1, r1, tt1, m1 = build(detr1, trend1, start1)
t2, d2, r2, tt2, m2 = build(detr2, trend2, start2)

time = np.concatenate([t1, t2])
detrended = np.concatenate([d1, d2])
raw = np.concatenate([r1, r2])
time_model = np.concatenate([tt1, tt2])
model = np.concatenate([m1, m2])

fig, (ax1, ax2) = plt.subplots(2, 1, figsize=(8.3, 4.15), dpi=100, sharex=True)
fig.subplots_adjust(left=0.125, right=0.9, top=0.88, bottom=0.112, hspace=0.05)

ax1.scatter(time, raw, c='k', s=8, linewidths=0.8, alpha=0.2, zorder=1)
ax1.plot(time_model, model, color='C1', lw=1.1, zorder=2)
ax1.set_ylabel('raw flux [ppt]', fontsize=12)
ax1.set_title('V551Aur', fontsize=12, pad=3)
ax1.set_ylim(-39.2, 22.9)
ax1.yaxis.set_major_locator(MultipleLocator(20))

ax2.scatter(time, detrended, c='k', s=8, linewidths=0.8, alpha=0.2)
ax2.set_ylabel('de-trended flux [ppt]', fontsize=12)
ax2.set_xlabel('time [TBJD]', fontsize=12)
ax2.set_ylim(-30.7, 15.9)
ax2.yaxis.set_major_locator(MultipleLocator(20))
ax2.set_xlim(2920, 2930)
ax2.xaxis.set_major_locator(MultipleLocator(2))

for ax in (ax1, ax2):
    ax.tick_params(labelsize=12)

fig.savefig('out.png', dpi=100)
